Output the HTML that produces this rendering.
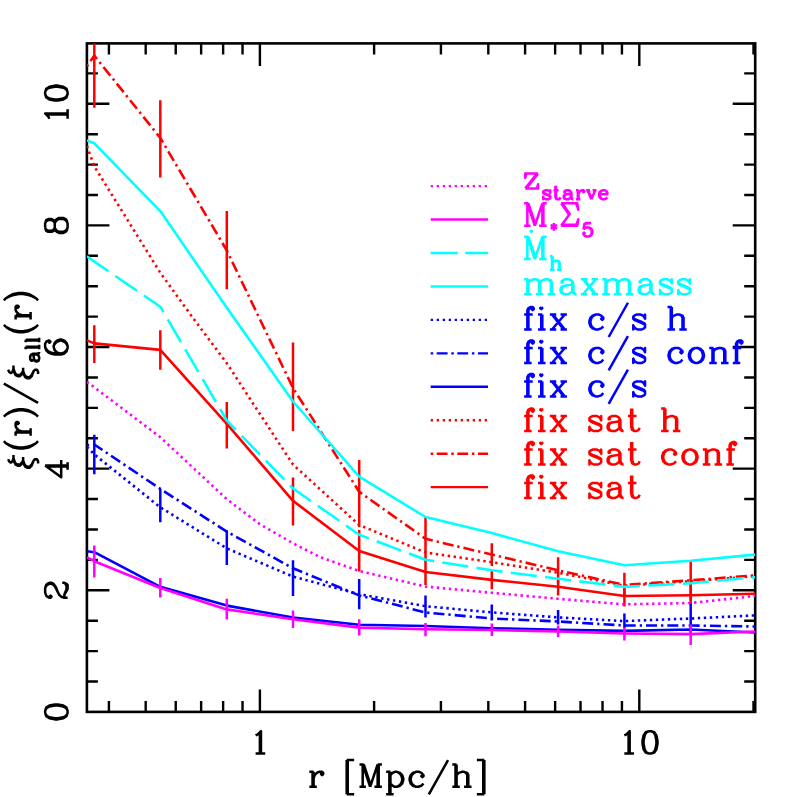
<!DOCTYPE html>
<html><head><meta charset="utf-8"><title>xi(r)/xi_all(r)</title>
<style>html,body{margin:0;padding:0;background:#fff;font-family:"Liberation Sans",sans-serif;}svg{display:block}</style>
</head><body>
<svg width="797" height="797" viewBox="0 0 797 797">
<rect x="0" y="0" width="797" height="797" fill="#fff"/>
<rect x="86.90" y="43.40" width="668.30" height="668.50" fill="none" stroke="#000" stroke-width="2.60"/>
<path d="M108.92 711.90v-11.00 M108.92 43.40v11.00 M145.69 711.90v-11.00 M145.69 43.40v11.00 M175.73 711.90v-11.00 M175.73 43.40v11.00 M201.13 711.90v-11.00 M201.13 43.40v11.00 M223.13 711.90v-11.00 M223.13 43.40v11.00 M242.54 711.90v-11.00 M242.54 43.40v11.00 M259.90 711.90v-22.50 M259.90 43.40v22.50 M374.11 711.90v-11.00 M374.11 43.40v11.00 M440.92 711.90v-11.00 M440.92 43.40v11.00 M488.32 711.90v-11.00 M488.32 43.40v11.00 M525.09 711.90v-11.00 M525.09 43.40v11.00 M555.13 711.90v-11.00 M555.13 43.40v11.00 M580.53 711.90v-11.00 M580.53 43.40v11.00 M602.53 711.90v-11.00 M602.53 43.40v11.00 M621.94 711.90v-11.00 M621.94 43.40v11.00 M639.30 711.90v-22.50 M639.30 43.40v22.50 M753.51 711.90v-11.00 M753.51 43.40v11.00 M86.90 681.50h11.00 M755.20 681.50h-11.00 M86.90 651.09h11.00 M755.20 651.09h-11.00 M86.90 620.68h11.00 M755.20 620.68h-11.00 M86.90 590.28h22.50 M755.20 590.28h-22.50 M86.90 559.88h11.00 M755.20 559.88h-11.00 M86.90 529.47h11.00 M755.20 529.47h-11.00 M86.90 499.06h11.00 M755.20 499.06h-11.00 M86.90 468.66h22.50 M755.20 468.66h-22.50 M86.90 438.25h11.00 M755.20 438.25h-11.00 M86.90 407.85h11.00 M755.20 407.85h-11.00 M86.90 377.44h11.00 M755.20 377.44h-11.00 M86.90 347.04h22.50 M755.20 347.04h-22.50 M86.90 316.63h11.00 M755.20 316.63h-11.00 M86.90 286.23h11.00 M755.20 286.23h-11.00 M86.90 255.82h11.00 M755.20 255.82h-11.00 M86.90 225.42h22.50 M755.20 225.42h-22.50 M86.90 195.01h11.00 M755.20 195.01h-11.00 M86.90 164.61h11.00 M755.20 164.61h-11.00 M86.90 134.20h11.00 M755.20 134.20h-11.00 M86.90 103.80h22.50 M755.20 103.80h-22.50 M86.90 73.39h11.00 M755.20 73.39h-11.00" stroke="#000" stroke-width="2.40" fill="none"/>
<clipPath id="c"><rect x="86.9" y="43.4" width="668.3" height="668.5"/></clipPath>
<g clip-path="url(#c)" fill="none">
<polyline points="86.9,340.4 94.3,343.4 160.3,349.9 226.8,423.8 293.0,500.8 359.2,551.0 425.5,572.0 491.8,579.9 558.1,586.7 624.4,596.0 690.7,595.2 755.2,593.8" stroke="#ff0000" stroke-width="2.60" stroke-linejoin="round"/>
<path d="M94.3 325.3V363.0 M160.3 330.3V369.7 M226.8 402.0V448.6 M293.0 477.4V525.4 M359.2 530.0V571.5 M425.5 560.0V585.0 M491.8 570.5V589.3 M558.1 578.0V595.4 M624.4 585.6V606.4 M690.7 585.0V605.0" stroke="#ff0000" stroke-width="2.50"/>
<polyline points="86.9,66.3 94.3,55.6 160.3,137.9 226.8,250.5 293.0,388.0 359.2,491.8 425.5,538.8 491.8,554.6 558.1,570.3 624.4,584.9 690.7,580.3 755.2,575.3" stroke="#ff0000" stroke-width="2.60" stroke-dasharray="11 4 2.3 4" stroke-dashoffset="15" stroke-linejoin="round"/>
<path d="M94.3 3.6V107.8 M160.3 100.2V177.5 M226.8 211.0V289.2 M293.0 342.5V431.0 M359.2 460.0V527.0 M425.5 517.0V561.0 M491.8 543.2V566.0 M558.1 557.2V583.0 M624.4 572.7V597.0 M690.7 560.2V600.4" stroke="#ff0000" stroke-width="2.50"/>
<polyline points="86.9,146.0 94.3,166.4 160.3,272.8 193.5,318.7 226.8,363.2 259.9,414.0 293.0,464.5 359.2,525.0 425.5,552.5 491.8,562.2 558.1,572.7 624.4,585.7 690.7,581.2 755.2,576.2" stroke="#ff0000" stroke-width="2.60" stroke-dasharray="2.4 3.6" stroke-linejoin="round"/>
<polyline points="86.9,551.2 94.3,552.2 160.3,586.8 226.8,605.6 293.0,617.5 359.2,624.8 425.5,626.0 491.8,628.2 558.1,629.8 624.4,630.9 690.7,629.5 755.2,632.5" stroke="#0000ff" stroke-width="2.60" stroke-linejoin="round"/>
<polyline points="86.9,445.3 94.3,444.5 160.3,488.9 226.8,531.6 293.0,568.3 359.2,595.4 425.5,612.5 491.8,618.5 558.1,621.5 624.4,625.5 690.7,625.5 755.2,626.5" stroke="#0000ff" stroke-width="2.60" stroke-dasharray="11 4 2.3 4" stroke-dashoffset="15" stroke-linejoin="round"/>
<polyline points="86.9,447.0 94.3,454.4 160.3,507.3 226.8,548.4 293.0,576.6 359.2,594.2 425.5,606.2 491.8,612.4 558.1,617.4 624.4,621.1 690.7,618.5 755.2,615.4" stroke="#0000ff" stroke-width="2.60" stroke-dasharray="2.4 3.6" stroke-linejoin="round"/>
<path d="M94.3 434.7V474.2 M160.3 488.9V522.3 M226.8 530.3V565.0 M293.0 560.3V595.9 M359.2 579.1V609.2 M425.5 595.4V617.5 M491.8 604.4V620.5 M558.1 610.0V624.5 M624.4 613.4V627.9 M690.7 603.4V633.6" stroke="#0000ff" stroke-width="2.50"/>
<polyline points="86.9,140.4 94.3,143.3 160.3,211.1 226.8,307.7 293.0,401.5 359.2,476.6 425.5,517.0 491.8,533.1 558.1,551.2 624.4,565.2 690.7,560.8 755.2,554.6" stroke="#00ffff" stroke-width="2.60" stroke-linejoin="round"/>
<polyline points="86.9,256.3 94.3,261.6 160.3,306.7 226.8,420.5 293.0,488.5 359.2,534.7 425.5,559.8 491.8,570.3 558.1,578.7 624.4,586.9 690.7,583.2 755.2,577.2" stroke="#00ffff" stroke-width="2.60" stroke-dasharray="26.2 8.4" stroke-linejoin="round"/>
<polyline points="86.9,557.4 94.3,561.2 160.3,588.0 226.8,609.4 293.0,619.3 359.2,627.6 425.5,629.3 491.8,630.0 558.1,631.5 624.4,633.5 690.7,634.1 755.2,631.5" stroke="#ff00ff" stroke-width="2.60" stroke-linejoin="round"/>
<path d="M94.3 545.4V577.5 M160.3 578.0V597.6 M226.8 598.8V619.6 M293.0 610.5V628.0 M359.2 619.3V635.6 M425.5 623.0V636.3 M491.8 623.5V636.1 M558.1 625.5V637.1 M624.4 627.5V640.5 M690.7 624.5V645.0" stroke="#ff00ff" stroke-width="2.50"/>
<polyline points="86.9,381.8 94.3,387.3 160.3,437.2 226.8,499.2 259.9,524.2 293.0,543.3 320.0,557.1 359.2,571.0 425.5,586.6 491.8,592.8 558.1,598.8 624.4,604.4 690.7,603.0 755.2,596.0" stroke="#ff00ff" stroke-width="2.60" stroke-dasharray="2.4 3.6" stroke-linejoin="round"/>
</g>
<path d="M255.62 735.41 L257.76 734.34 L260.97 731.13 L260.97 753.60 M259.90 732.20 L259.90 753.60 M255.62 753.60 L265.25 753.60" stroke="#000" stroke-width="2.50" fill="none" stroke-linecap="butt" stroke-linejoin="round"/>
<path d="M624.32 735.41 L626.46 734.34 L629.67 731.13 L629.67 753.60 M628.60 732.20 L628.60 753.60 M624.32 753.60 L633.95 753.60 M648.93 731.13 L645.72 732.20 L643.58 735.41 L642.51 740.76 L642.51 743.97 L643.58 749.32 L645.72 752.53 L648.93 753.60 L651.07 753.60 L654.28 752.53 L656.42 749.32 L657.49 743.97 L657.49 740.76 L656.42 735.41 L654.28 732.20 L651.07 731.13 L648.93 731.13 M648.93 731.13 L646.79 732.20 L645.72 733.27 L644.65 735.41 L643.58 740.76 L643.58 743.97 L644.65 749.32 L645.72 751.46 L646.79 752.53 L648.93 753.60 M651.07 753.60 L653.21 752.53 L654.28 751.46 L655.35 749.32 L656.42 743.97 L656.42 740.76 L655.35 735.41 L654.28 733.27 L653.21 732.20 L651.07 731.13" stroke="#000" stroke-width="2.50" fill="none" stroke-linecap="butt" stroke-linejoin="round"/>
<path d="M45.13 712.97 L46.20 716.18 L49.41 718.32 L54.76 719.39 L57.97 719.39 L63.32 718.32 L66.53 716.18 L67.60 712.97 L67.60 710.83 L66.53 707.62 L63.32 705.48 L57.97 704.41 L54.76 704.41 L49.41 705.48 L46.20 707.62 L45.13 710.83 L45.13 712.97 M45.13 712.97 L46.20 715.11 L47.27 716.18 L49.41 717.25 L54.76 718.32 L57.97 718.32 L63.32 717.25 L65.46 716.18 L66.53 715.11 L67.60 712.97 M67.60 710.83 L66.53 708.69 L65.46 707.62 L63.32 706.55 L57.97 705.48 L54.76 705.48 L49.41 706.55 L47.27 707.62 L46.20 708.69 L45.13 710.83" stroke="#000" stroke-width="2.50" fill="none" stroke-linecap="butt" stroke-linejoin="round"/>
<path d="M49.41 596.70 L50.48 595.63 L51.55 596.70 L50.48 597.77 L49.41 597.77 L47.27 596.70 L46.20 595.63 L45.13 592.42 L45.13 588.14 L46.20 584.93 L47.27 583.86 L49.41 582.79 L51.55 582.79 L53.69 583.86 L55.83 587.07 L57.97 592.42 L59.04 594.56 L61.18 596.70 L64.39 597.77 L67.60 597.77 M45.13 588.14 L46.20 586.00 L47.27 584.93 L49.41 583.86 L51.55 583.86 L53.69 584.93 L55.83 588.14 L57.97 592.42 M65.46 597.77 L64.39 596.70 L64.39 594.56 L66.53 589.21 L66.53 586.00 L65.46 583.86 L64.39 582.79 M64.39 594.56 L67.60 589.21 L67.60 584.93 L66.53 583.86 L64.39 582.79 L62.25 582.79" stroke="#000" stroke-width="2.50" fill="none" stroke-linecap="butt" stroke-linejoin="round"/>
<path d="M47.27 466.52 L67.60 466.52 M45.13 465.45 L67.60 465.45 M45.13 465.45 L61.18 477.22 L61.18 460.10 M67.60 469.73 L67.60 462.24" stroke="#000" stroke-width="2.50" fill="none" stroke-linecap="butt" stroke-linejoin="round"/>
<path d="M48.34 341.69 L49.41 342.76 L50.48 341.69 L49.41 340.62 L48.34 340.62 L46.20 341.69 L45.13 343.83 L45.13 347.04 L46.20 350.25 L48.34 352.39 L50.48 353.46 L54.76 354.53 L61.18 354.53 L64.39 353.46 L66.53 351.32 L67.60 348.11 L67.60 345.97 L66.53 342.76 L64.39 340.62 L61.18 339.55 L60.11 339.55 L56.90 340.62 L54.76 342.76 L53.69 345.97 L53.69 347.04 L54.76 350.25 L56.90 352.39 L60.11 353.46 M45.13 347.04 L46.20 349.18 L48.34 351.32 L50.48 352.39 L54.76 353.46 L61.18 353.46 L64.39 352.39 L66.53 350.25 L67.60 348.11 M67.60 345.97 L66.53 343.83 L64.39 341.69 L61.18 340.62 L60.11 340.62 L56.90 341.69 L54.76 343.83 L53.69 345.97" stroke="#000" stroke-width="2.50" fill="none" stroke-linecap="butt" stroke-linejoin="round"/>
<path d="M45.13 227.56 L46.20 230.77 L48.34 231.84 L51.55 231.84 L53.69 230.77 L54.76 227.56 L54.76 223.28 L53.69 220.07 L51.55 219.00 L48.34 219.00 L46.20 220.07 L45.13 223.28 L45.13 227.56 M45.13 227.56 L46.20 229.70 L48.34 230.77 L51.55 230.77 L53.69 229.70 L54.76 227.56 M54.76 223.28 L53.69 221.14 L51.55 220.07 L48.34 220.07 L46.20 221.14 L45.13 223.28 M54.76 227.56 L55.83 230.77 L56.90 231.84 L59.04 232.91 L63.32 232.91 L65.46 231.84 L66.53 230.77 L67.60 227.56 L67.60 223.28 L66.53 220.07 L65.46 219.00 L63.32 217.93 L59.04 217.93 L56.90 219.00 L55.83 220.07 L54.76 223.28 M54.76 227.56 L55.83 229.70 L56.90 230.77 L59.04 231.84 L63.32 231.84 L65.46 230.77 L66.53 229.70 L67.60 227.56 M67.60 223.28 L66.53 221.14 L65.46 220.07 L63.32 219.00 L59.04 219.00 L56.90 220.07 L55.83 221.14 L54.76 223.28" stroke="#000" stroke-width="2.50" fill="none" stroke-linecap="butt" stroke-linejoin="round"/>
<path d="M49.41 118.78 L48.34 116.64 L45.13 113.43 L67.60 113.43 M46.20 114.50 L67.60 114.50 M67.60 118.78 L67.60 109.15 M45.13 94.17 L46.20 97.38 L49.41 99.52 L54.76 100.59 L57.97 100.59 L63.32 99.52 L66.53 97.38 L67.60 94.17 L67.60 92.03 L66.53 88.82 L63.32 86.68 L57.97 85.61 L54.76 85.61 L49.41 86.68 L46.20 88.82 L45.13 92.03 L45.13 94.17 M45.13 94.17 L46.20 96.31 L47.27 97.38 L49.41 98.45 L54.76 99.52 L57.97 99.52 L63.32 98.45 L65.46 97.38 L66.53 96.31 L67.60 94.17 M67.60 92.03 L66.53 89.89 L65.46 88.82 L63.32 87.75 L57.97 86.68 L54.76 86.68 L49.41 87.75 L47.27 88.82 L46.20 89.89 L45.13 92.03" stroke="#000" stroke-width="2.50" fill="none" stroke-linecap="butt" stroke-linejoin="round"/>
<path d="M312.54 771.86 L312.54 786.80 M313.61 771.86 L313.61 786.80 M313.61 778.26 L314.67 775.06 L316.81 772.93 L318.94 771.86 L322.14 771.86 L323.21 772.93 L323.21 774.00 L322.14 775.06 L321.08 774.00 L322.14 772.93 M309.34 771.86 L313.61 771.86 M309.34 786.80 L316.81 786.80 M346.68 760.12 L346.68 794.27 M347.75 760.12 L347.75 794.27 M346.68 760.12 L354.15 760.12 M346.68 794.27 L354.15 794.27 M362.69 764.39 L362.69 786.80 M363.76 764.39 L370.16 783.60 M362.69 764.39 L370.16 786.80 M377.63 764.39 L370.16 786.80 M377.63 764.39 L377.63 786.80 M378.69 764.39 L378.69 786.80 M359.49 764.39 L363.76 764.39 M377.63 764.39 L381.89 764.39 M359.49 786.80 L365.89 786.80 M374.43 786.80 L381.89 786.80 M389.36 771.86 L389.36 794.27 M390.43 771.86 L390.43 794.27 M390.43 775.06 L392.56 772.93 L394.70 771.86 L396.83 771.86 L400.03 772.93 L402.17 775.06 L403.24 778.26 L403.24 780.40 L402.17 783.60 L400.03 785.73 L396.83 786.80 L394.70 786.80 L392.56 785.73 L390.43 783.60 M396.83 771.86 L398.97 772.93 L401.10 775.06 L402.17 778.26 L402.17 780.40 L401.10 783.60 L398.97 785.73 L396.83 786.80 M386.16 771.86 L390.43 771.86 M386.16 794.27 L393.63 794.27 M422.44 775.06 L421.37 776.13 L422.44 777.20 L423.51 776.13 L423.51 775.06 L421.37 772.93 L419.24 771.86 L416.04 771.86 L412.84 772.93 L410.70 775.06 L409.64 778.26 L409.64 780.40 L410.70 783.60 L412.84 785.73 L416.04 786.80 L418.17 786.80 L421.37 785.73 L423.51 783.60 M416.04 771.86 L413.90 772.93 L411.77 775.06 L410.70 778.26 L410.70 780.40 L411.77 783.60 L413.90 785.73 L416.04 786.80 M448.05 760.12 L428.84 794.27 M455.52 764.39 L455.52 786.80 M456.58 764.39 L456.58 786.80 M456.58 775.06 L458.72 772.93 L461.92 771.86 L464.05 771.86 L467.25 772.93 L468.32 775.06 L468.32 786.80 M464.05 771.86 L466.19 772.93 L467.25 775.06 L467.25 786.80 M452.32 764.39 L456.58 764.39 M452.32 786.80 L459.79 786.80 M464.05 786.80 L471.52 786.80 M483.26 760.12 L483.26 794.27 M484.33 760.12 L484.33 794.27 M476.86 760.12 L484.33 760.12 M476.86 794.27 L484.33 794.27" stroke="#000" stroke-width="2.50" fill="none" stroke-linecap="butt" stroke-linejoin="round"/>
<path d="M8.13 459.25 L9.20 461.38 L10.27 462.44 L11.34 462.44 L12.41 461.38 L13.48 458.18 L13.48 454.99 M13.48 458.18 L14.55 462.44 L15.62 464.57 L17.76 465.64 L19.90 465.64 L22.04 463.51 L23.11 460.31 L23.11 457.12 M13.48 458.18 L14.55 461.38 L15.62 463.51 L17.76 464.57 L19.90 464.57 L22.04 462.44 L23.11 460.31 M23.11 460.31 L24.18 464.57 L25.25 466.70 L27.39 467.77 L29.53 467.77 L31.67 465.64 L33.81 460.31 L34.88 459.25 L37.02 459.25 L38.09 461.38 L38.09 463.51 M23.11 460.31 L24.18 463.51 L25.25 465.64 L27.39 466.70 L29.53 466.70 L31.67 464.57 L33.81 460.31 M3.85 441.14 L5.99 443.27 L9.20 445.40 L13.48 447.53 L18.83 448.60 L23.11 448.60 L28.46 447.53 L32.74 445.40 L35.95 443.27 L38.09 441.14 M5.99 443.27 L10.27 445.40 L13.48 446.47 L18.83 447.53 L23.11 447.53 L28.46 446.47 L31.67 445.40 L35.95 443.27 M15.62 432.62 L30.60 432.62 M15.62 431.56 L30.60 431.56 M22.04 431.56 L18.83 430.49 L16.69 428.36 L15.62 426.23 L15.62 423.04 L16.69 421.97 L17.76 421.97 L18.83 423.04 L17.76 424.10 L16.69 423.04 M15.62 435.82 L15.62 431.56 M30.60 435.82 L30.60 428.36 M3.85 416.65 L5.99 414.52 L9.20 412.39 L13.48 410.26 L18.83 409.19 L23.11 409.19 L28.46 410.26 L32.74 412.39 L35.95 414.52 L38.09 416.65 M5.99 414.52 L10.27 412.39 L13.48 411.32 L18.83 410.26 L23.11 410.26 L28.46 411.32 L31.67 412.39 L35.95 414.52 M3.85 383.63 L38.09 402.80 M8.13 369.79 L9.20 371.92 L10.27 372.98 L11.34 372.98 L12.41 371.92 L13.48 368.72 L13.48 365.53 M13.48 368.72 L14.55 372.98 L15.62 375.11 L17.76 376.18 L19.90 376.18 L22.04 374.05 L23.11 370.85 L23.11 367.66 M13.48 368.72 L14.55 371.92 L15.62 374.05 L17.76 375.11 L19.90 375.11 L22.04 372.98 L23.11 370.85 M23.11 370.85 L24.18 375.11 L25.25 377.24 L27.39 378.31 L29.53 378.31 L31.67 376.18 L33.81 370.85 L34.88 369.79 L37.02 369.79 L38.09 371.92 L38.09 374.05 M23.11 370.85 L24.18 374.05 L25.25 376.18 L27.39 377.24 L29.53 377.24 L31.67 375.11 L33.81 370.85 M31.46 360.20 L32.10 360.20 L32.10 360.84 L31.46 360.84 L30.81 360.20 L30.17 358.93 L30.17 356.37 L30.81 355.09 L31.46 354.45 L32.74 353.81 L37.23 353.81 L38.52 353.18 L39.16 352.54 M31.46 354.45 L37.23 354.45 L38.52 353.81 L39.16 352.54 L39.16 351.90 M32.74 354.45 L33.38 355.09 L34.02 358.93 L34.67 360.84 L35.95 361.48 L37.23 361.48 L38.52 360.84 L39.16 358.93 L39.16 357.01 L38.52 355.73 L37.23 354.45 M34.02 358.93 L34.67 360.20 L35.95 360.84 L37.23 360.84 L38.52 360.20 L39.16 358.93 M25.68 347.42 L39.16 347.42 M25.68 346.79 L39.16 346.79 M25.68 349.34 L25.68 346.79 M39.16 349.34 L39.16 344.87 M25.68 340.39 L39.16 340.39 M25.68 339.76 L39.16 339.76 M25.68 342.31 L25.68 339.76 M39.16 342.31 L39.16 337.84 M3.85 324.85 L5.99 326.98 L9.20 329.11 L13.48 331.24 L18.83 332.30 L23.11 332.30 L28.46 331.24 L32.74 329.11 L35.95 326.98 L38.09 324.85 M5.99 326.98 L10.27 329.11 L13.48 330.17 L18.83 331.24 L23.11 331.24 L28.46 330.17 L31.67 329.11 L35.95 326.98 M15.62 316.33 L30.60 316.33 M15.62 315.26 L30.60 315.26 M22.04 315.26 L18.83 314.20 L16.69 312.07 L15.62 309.94 L15.62 306.74 L16.69 305.68 L17.76 305.68 L18.83 306.74 L17.76 307.81 L16.69 306.74 M15.62 319.52 L15.62 315.26 M30.60 319.52 L30.60 312.07 M3.85 300.35 L5.99 298.22 L9.20 296.09 L13.48 293.96 L18.83 292.90 L23.11 292.90 L28.46 293.96 L32.74 296.09 L35.95 298.22 L38.09 300.35 M5.99 298.22 L10.27 296.09 L13.48 295.03 L18.83 293.96 L23.11 293.96 L28.46 295.03 L31.67 296.09 L35.95 298.22" stroke="#000" stroke-width="2.50" fill="none" stroke-linecap="butt" stroke-linejoin="round"/>
<path d="M430.7 186.10H488.0" stroke="#ff00ff" stroke-width="2.40" stroke-dasharray="2.3 3.7" fill="none"/>
<path d="M430.7 219.55H488.0" stroke="#ff00ff" stroke-width="2.40" fill="none"/>
<path d="M430.7 253.00H488.0" stroke="#00ffff" stroke-width="2.40" stroke-dasharray="27 7.6" fill="none"/>
<path d="M430.7 286.45H488.0" stroke="#00ffff" stroke-width="2.40" fill="none"/>
<path d="M430.7 319.90H488.0" stroke="#0000ff" stroke-width="2.40" stroke-dasharray="2.3 3.7" fill="none"/>
<path d="M430.7 353.35H488.0" stroke="#0000ff" stroke-width="2.40" stroke-dasharray="2.5 3.5 10.9 3.7" fill="none"/>
<path d="M430.7 386.80H488.0" stroke="#0000ff" stroke-width="2.40" fill="none"/>
<path d="M430.7 420.25H488.0" stroke="#ff0000" stroke-width="2.40" stroke-dasharray="2.3 3.7" fill="none"/>
<path d="M430.7 453.70H488.0" stroke="#ff0000" stroke-width="2.40" stroke-dasharray="2.5 3.5 10.9 3.7" fill="none"/>
<path d="M430.7 487.15H488.0" stroke="#ff0000" stroke-width="2.40" fill="none"/>
<path d="M536.98 173.62 L525.21 188.60 M538.05 173.62 L526.28 188.60 M526.28 173.62 L525.21 177.90 L525.21 173.62 L538.05 173.62 M525.21 188.60 L538.05 188.60 L538.05 184.32 L536.98 188.60 M549.61 191.60 L550.25 190.31 L550.25 192.88 L549.61 191.60 L548.96 190.95 L547.68 190.31 L545.11 190.31 L543.83 190.95 L543.19 191.60 L543.19 192.88 L543.83 193.52 L545.11 194.16 L548.32 195.45 L549.61 196.09 L550.25 196.73 M543.19 192.24 L543.83 192.88 L545.11 193.52 L548.32 194.81 L549.61 195.45 L550.25 196.09 L550.25 198.02 L549.61 198.66 L548.32 199.30 L545.75 199.30 L544.47 198.66 L543.83 198.02 L543.19 196.73 L543.19 199.30 L543.83 198.02 M555.38 185.82 L555.38 196.73 L556.03 198.66 L557.31 199.30 L558.59 199.30 L559.88 198.66 L560.52 197.37 M556.03 185.82 L556.03 196.73 L556.67 198.66 L557.31 199.30 M553.46 190.31 L558.59 190.31 M565.01 191.60 L565.01 192.24 L564.37 192.24 L564.37 191.60 L565.01 190.95 L566.30 190.31 L568.87 190.31 L570.15 190.95 L570.79 191.60 L571.43 192.88 L571.43 197.37 L572.08 198.66 L572.72 199.30 M570.79 191.60 L570.79 197.37 L571.43 198.66 L572.72 199.30 L573.36 199.30 M570.79 192.88 L570.15 193.52 L566.30 194.16 L564.37 194.81 L563.73 196.09 L563.73 197.37 L564.37 198.66 L566.30 199.30 L568.22 199.30 L569.51 198.66 L570.79 197.37 M566.30 194.16 L565.01 194.81 L564.37 196.09 L564.37 197.37 L565.01 198.66 L566.30 199.30 M577.85 190.31 L577.85 199.30 M578.50 190.31 L578.50 199.30 M578.50 194.16 L579.14 192.24 L580.42 190.95 L581.71 190.31 L583.63 190.31 L584.27 190.95 L584.27 191.60 L583.63 192.24 L582.99 191.60 L583.63 190.95 M575.93 190.31 L578.50 190.31 M575.93 199.30 L580.42 199.30 M587.48 190.31 L591.34 199.30 M588.13 190.31 L591.34 198.02 M595.19 190.31 L591.34 199.30 M586.20 190.31 L590.05 190.31 M592.62 190.31 L596.47 190.31 M599.68 194.16 L607.39 194.16 L607.39 192.88 L606.74 191.60 L606.10 190.95 L604.82 190.31 L602.89 190.31 L600.97 190.95 L599.68 192.24 L599.04 194.16 L599.04 195.45 L599.68 197.37 L600.97 198.66 L602.89 199.30 L604.18 199.30 L606.10 198.66 L607.39 197.37 M606.74 194.16 L606.74 192.24 L606.10 190.95 M602.89 190.31 L601.61 190.95 L600.32 192.24 L599.68 194.16 L599.68 195.45 L600.32 197.37 L601.61 198.66 L602.89 199.30" stroke="#ff00ff" stroke-width="2.50" fill="none" stroke-linecap="butt" stroke-linejoin="round"/>
<path d="M527.35 203.28 L527.35 225.75 M528.42 203.28 L534.84 222.54 M527.35 203.28 L534.84 225.75 M542.33 203.28 L534.84 225.75 M542.33 203.28 L542.33 225.75 M543.40 203.28 L543.40 225.75 M524.14 203.28 L528.42 203.28 M542.33 203.28 L546.61 203.28 M524.14 225.75 L530.56 225.75 M539.12 225.75 L546.61 225.75 M553.89 222.97 L553.89 230.67 M550.68 224.89 L557.10 228.75 M557.10 224.89 L550.68 228.75 M562.23 203.28 L569.72 213.98 L561.16 225.75 M561.16 203.28 L568.65 213.98 M561.16 203.28 L577.21 203.28 L578.28 209.70 L576.14 203.28 M562.23 224.68 L576.14 224.68 M561.16 225.75 L577.21 225.75 L578.28 219.33 L576.14 225.75 M584.70 222.97 L583.42 229.39 M583.42 229.39 L584.70 228.10 L586.63 227.46 L588.55 227.46 L590.48 228.10 L591.76 229.39 L592.41 231.31 L592.41 232.60 L591.76 234.52 L590.48 235.81 L588.55 236.45 L586.63 236.45 L584.70 235.81 L584.06 235.17 L583.42 233.88 L583.42 233.24 L584.06 232.60 L584.70 233.24 L584.06 233.88 M588.55 227.46 L589.84 228.10 L591.12 229.39 L591.76 231.31 L591.76 232.60 L591.12 234.52 L589.84 235.81 L588.55 236.45 M584.70 222.97 L591.12 222.97 M584.70 223.61 L587.91 223.61 L591.12 222.97" stroke="#ff00ff" stroke-width="2.50" fill="none" stroke-linecap="butt" stroke-linejoin="round"/>
<path d="M527.35 236.63 L527.35 259.10 M528.42 236.63 L534.84 255.89 M527.35 236.63 L534.84 259.10 M542.33 236.63 L534.84 259.10 M542.33 236.63 L542.33 259.10 M543.40 236.63 L543.40 259.10 M524.14 236.63 L528.42 236.63 M542.33 236.63 L546.61 236.63 M524.14 259.10 L530.56 259.10 M539.12 259.10 L546.61 259.10 M551.96 256.32 L551.96 269.80 M552.60 256.32 L552.60 269.80 M552.60 262.74 L553.89 261.45 L555.81 260.81 L557.10 260.81 L559.02 261.45 L559.66 262.74 L559.66 269.80 M557.10 260.81 L558.38 261.45 L559.02 262.74 L559.02 269.80 M550.03 256.32 L552.60 256.32 M550.03 269.80 L554.53 269.80 M557.10 269.80 L561.59 269.80" stroke="#00ffff" stroke-width="2.50" fill="none" stroke-linecap="butt" stroke-linejoin="round"/>
<path d="M527.35 279.27 L527.35 294.25 M528.42 279.27 L528.42 294.25 M528.42 282.48 L530.56 280.34 L533.77 279.27 L535.91 279.27 L539.12 280.34 L540.19 282.48 L540.19 294.25 M535.91 279.27 L538.05 280.34 L539.12 282.48 L539.12 294.25 M540.19 282.48 L542.33 280.34 L545.54 279.27 L547.68 279.27 L550.89 280.34 L551.96 282.48 L551.96 294.25 M547.68 279.27 L549.82 280.34 L550.89 282.48 L550.89 294.25 M524.14 279.27 L528.42 279.27 M524.14 294.25 L531.63 294.25 M535.91 294.25 L543.40 294.25 M547.68 294.25 L555.17 294.25 M562.66 281.41 L562.66 282.48 L561.59 282.48 L561.59 281.41 L562.66 280.34 L564.80 279.27 L569.08 279.27 L571.22 280.34 L572.29 281.41 L573.36 283.55 L573.36 291.04 L574.43 293.18 L575.50 294.25 M572.29 281.41 L572.29 291.04 L573.36 293.18 L575.50 294.25 L576.57 294.25 M572.29 283.55 L571.22 284.62 L564.80 285.69 L561.59 286.76 L560.52 288.90 L560.52 291.04 L561.59 293.18 L564.80 294.25 L568.01 294.25 L570.15 293.18 L572.29 291.04 M564.80 285.69 L562.66 286.76 L561.59 288.90 L561.59 291.04 L562.66 293.18 L564.80 294.25 M582.99 279.27 L594.76 294.25 M584.06 279.27 L595.83 294.25 M595.83 279.27 L582.99 294.25 M580.85 279.27 L587.27 279.27 M591.55 279.27 L597.97 279.27 M580.85 294.25 L587.27 294.25 M591.55 294.25 L597.97 294.25 M605.46 279.27 L605.46 294.25 M606.53 279.27 L606.53 294.25 M606.53 282.48 L608.67 280.34 L611.88 279.27 L614.02 279.27 L617.23 280.34 L618.30 282.48 L618.30 294.25 M614.02 279.27 L616.16 280.34 L617.23 282.48 L617.23 294.25 M618.30 282.48 L620.44 280.34 L623.65 279.27 L625.79 279.27 L629.00 280.34 L630.07 282.48 L630.07 294.25 M625.79 279.27 L627.93 280.34 L629.00 282.48 L629.00 294.25 M602.25 279.27 L606.53 279.27 M602.25 294.25 L609.74 294.25 M614.02 294.25 L621.51 294.25 M625.79 294.25 L633.28 294.25 M640.77 281.41 L640.77 282.48 L639.70 282.48 L639.70 281.41 L640.77 280.34 L642.91 279.27 L647.19 279.27 L649.33 280.34 L650.40 281.41 L651.47 283.55 L651.47 291.04 L652.54 293.18 L653.61 294.25 M650.40 281.41 L650.40 291.04 L651.47 293.18 L653.61 294.25 L654.68 294.25 M650.40 283.55 L649.33 284.62 L642.91 285.69 L639.70 286.76 L638.63 288.90 L638.63 291.04 L639.70 293.18 L642.91 294.25 L646.12 294.25 L648.26 293.18 L650.40 291.04 M642.91 285.69 L640.77 286.76 L639.70 288.90 L639.70 291.04 L640.77 293.18 L642.91 294.25 M670.73 281.41 L671.80 279.27 L671.80 283.55 L670.73 281.41 L669.66 280.34 L667.52 279.27 L663.24 279.27 L661.10 280.34 L660.03 281.41 L660.03 283.55 L661.10 284.62 L663.24 285.69 L668.59 287.83 L670.73 288.90 L671.80 289.97 M660.03 282.48 L661.10 283.55 L663.24 284.62 L668.59 286.76 L670.73 287.83 L671.80 288.90 L671.80 292.11 L670.73 293.18 L668.59 294.25 L664.31 294.25 L662.17 293.18 L661.10 292.11 L660.03 289.97 L660.03 294.25 L661.10 292.11 M688.92 281.41 L689.99 279.27 L689.99 283.55 L688.92 281.41 L687.85 280.34 L685.71 279.27 L681.43 279.27 L679.29 280.34 L678.22 281.41 L678.22 283.55 L679.29 284.62 L681.43 285.69 L686.78 287.83 L688.92 288.90 L689.99 289.97 M678.22 282.48 L679.29 283.55 L681.43 284.62 L686.78 286.76 L688.92 287.83 L689.99 288.90 L689.99 292.11 L688.92 293.18 L686.78 294.25 L682.50 294.25 L680.36 293.18 L679.29 292.11 L678.22 289.97 L678.22 294.25 L679.29 292.11" stroke="#00ffff" stroke-width="2.50" fill="none" stroke-linecap="butt" stroke-linejoin="round"/>
<path d="M532.70 308.10 L531.63 309.17 L532.70 310.24 L533.77 309.17 L533.77 308.10 L532.70 307.03 L530.56 307.03 L528.42 308.10 L527.35 310.24 L527.35 329.50 M530.56 307.03 L529.49 308.10 L528.42 310.24 L528.42 329.50 M524.14 314.52 L532.70 314.52 M524.14 329.50 L531.63 329.50 M541.26 307.03 L540.19 308.10 L541.26 309.17 L542.33 308.10 L541.26 307.03 M541.26 314.52 L541.26 329.50 M542.33 314.52 L542.33 329.50 M538.05 314.52 L542.33 314.52 M538.05 329.50 L545.54 329.50 M551.96 314.52 L563.73 329.50 M553.03 314.52 L564.80 329.50 M564.80 314.52 L551.96 329.50 M549.82 314.52 L556.24 314.52 M560.52 314.52 L566.94 314.52 M549.82 329.50 L556.24 329.50 M560.52 329.50 L566.94 329.50 M602.25 317.73 L601.18 318.80 L602.25 319.87 L603.32 318.80 L603.32 317.73 L601.18 315.59 L599.04 314.52 L595.83 314.52 L592.62 315.59 L590.48 317.73 L589.41 320.94 L589.41 323.08 L590.48 326.29 L592.62 328.43 L595.83 329.50 L597.97 329.50 L601.18 328.43 L603.32 326.29 M595.83 314.52 L593.69 315.59 L591.55 317.73 L590.48 320.94 L590.48 323.08 L591.55 326.29 L593.69 328.43 L595.83 329.50 M627.93 302.75 L608.67 336.99 M643.98 316.66 L645.05 314.52 L645.05 318.80 L643.98 316.66 L642.91 315.59 L640.77 314.52 L636.49 314.52 L634.35 315.59 L633.28 316.66 L633.28 318.80 L634.35 319.87 L636.49 320.94 L641.84 323.08 L643.98 324.15 L645.05 325.22 M633.28 317.73 L634.35 318.80 L636.49 319.87 L641.84 322.01 L643.98 323.08 L645.05 324.15 L645.05 327.36 L643.98 328.43 L641.84 329.50 L637.56 329.50 L635.42 328.43 L634.35 327.36 L633.28 325.22 L633.28 329.50 L634.35 327.36 M670.73 307.03 L670.73 329.50 M671.80 307.03 L671.80 329.50 M671.80 317.73 L673.94 315.59 L677.15 314.52 L679.29 314.52 L682.50 315.59 L683.57 317.73 L683.57 329.50 M679.29 314.52 L681.43 315.59 L682.50 317.73 L682.50 329.50 M667.52 307.03 L671.80 307.03 M667.52 329.50 L675.01 329.50 M679.29 329.50 L686.78 329.50" stroke="#0000ff" stroke-width="2.50" fill="none" stroke-linecap="butt" stroke-linejoin="round"/>
<path d="M532.70 341.55 L531.63 342.62 L532.70 343.69 L533.77 342.62 L533.77 341.55 L532.70 340.48 L530.56 340.48 L528.42 341.55 L527.35 343.69 L527.35 362.95 M530.56 340.48 L529.49 341.55 L528.42 343.69 L528.42 362.95 M524.14 347.97 L532.70 347.97 M524.14 362.95 L531.63 362.95 M541.26 340.48 L540.19 341.55 L541.26 342.62 L542.33 341.55 L541.26 340.48 M541.26 347.97 L541.26 362.95 M542.33 347.97 L542.33 362.95 M538.05 347.97 L542.33 347.97 M538.05 362.95 L545.54 362.95 M551.96 347.97 L563.73 362.95 M553.03 347.97 L564.80 362.95 M564.80 347.97 L551.96 362.95 M549.82 347.97 L556.24 347.97 M560.52 347.97 L566.94 347.97 M549.82 362.95 L556.24 362.95 M560.52 362.95 L566.94 362.95 M602.25 351.18 L601.18 352.25 L602.25 353.32 L603.32 352.25 L603.32 351.18 L601.18 349.04 L599.04 347.97 L595.83 347.97 L592.62 349.04 L590.48 351.18 L589.41 354.39 L589.41 356.53 L590.48 359.74 L592.62 361.88 L595.83 362.95 L597.97 362.95 L601.18 361.88 L603.32 359.74 M595.83 347.97 L593.69 349.04 L591.55 351.18 L590.48 354.39 L590.48 356.53 L591.55 359.74 L593.69 361.88 L595.83 362.95 M627.93 336.20 L608.67 370.44 M643.98 350.11 L645.05 347.97 L645.05 352.25 L643.98 350.11 L642.91 349.04 L640.77 347.97 L636.49 347.97 L634.35 349.04 L633.28 350.11 L633.28 352.25 L634.35 353.32 L636.49 354.39 L641.84 356.53 L643.98 357.60 L645.05 358.67 M633.28 351.18 L634.35 352.25 L636.49 353.32 L641.84 355.46 L643.98 356.53 L645.05 357.60 L645.05 360.81 L643.98 361.88 L641.84 362.95 L637.56 362.95 L635.42 361.88 L634.35 360.81 L633.28 358.67 L633.28 362.95 L634.35 360.81 M681.43 351.18 L680.36 352.25 L681.43 353.32 L682.50 352.25 L682.50 351.18 L680.36 349.04 L678.22 347.97 L675.01 347.97 L671.80 349.04 L669.66 351.18 L668.59 354.39 L668.59 356.53 L669.66 359.74 L671.80 361.88 L675.01 362.95 L677.15 362.95 L680.36 361.88 L682.50 359.74 M675.01 347.97 L672.87 349.04 L670.73 351.18 L669.66 354.39 L669.66 356.53 L670.73 359.74 L672.87 361.88 L675.01 362.95 M695.34 347.97 L692.13 349.04 L689.99 351.18 L688.92 354.39 L688.92 356.53 L689.99 359.74 L692.13 361.88 L695.34 362.95 L697.48 362.95 L700.69 361.88 L702.83 359.74 L703.90 356.53 L703.90 354.39 L702.83 351.18 L700.69 349.04 L697.48 347.97 L695.34 347.97 M695.34 347.97 L693.20 349.04 L691.06 351.18 L689.99 354.39 L689.99 356.53 L691.06 359.74 L693.20 361.88 L695.34 362.95 M697.48 362.95 L699.62 361.88 L701.76 359.74 L702.83 356.53 L702.83 354.39 L701.76 351.18 L699.62 349.04 L697.48 347.97 M712.46 347.97 L712.46 362.95 M713.53 347.97 L713.53 362.95 M713.53 351.18 L715.67 349.04 L718.88 347.97 L721.02 347.97 L724.23 349.04 L725.30 351.18 L725.30 362.95 M721.02 347.97 L723.16 349.04 L724.23 351.18 L724.23 362.95 M709.25 347.97 L713.53 347.97 M709.25 362.95 L716.74 362.95 M721.02 362.95 L728.51 362.95 M741.35 341.55 L740.28 342.62 L741.35 343.69 L742.42 342.62 L742.42 341.55 L741.35 340.48 L739.21 340.48 L737.07 341.55 L736.00 343.69 L736.00 362.95 M739.21 340.48 L738.14 341.55 L737.07 343.69 L737.07 362.95 M732.79 347.97 L741.35 347.97 M732.79 362.95 L740.28 362.95" stroke="#0000ff" stroke-width="2.50" fill="none" stroke-linecap="butt" stroke-linejoin="round"/>
<path d="M532.70 375.00 L531.63 376.07 L532.70 377.14 L533.77 376.07 L533.77 375.00 L532.70 373.93 L530.56 373.93 L528.42 375.00 L527.35 377.14 L527.35 396.40 M530.56 373.93 L529.49 375.00 L528.42 377.14 L528.42 396.40 M524.14 381.42 L532.70 381.42 M524.14 396.40 L531.63 396.40 M541.26 373.93 L540.19 375.00 L541.26 376.07 L542.33 375.00 L541.26 373.93 M541.26 381.42 L541.26 396.40 M542.33 381.42 L542.33 396.40 M538.05 381.42 L542.33 381.42 M538.05 396.40 L545.54 396.40 M551.96 381.42 L563.73 396.40 M553.03 381.42 L564.80 396.40 M564.80 381.42 L551.96 396.40 M549.82 381.42 L556.24 381.42 M560.52 381.42 L566.94 381.42 M549.82 396.40 L556.24 396.40 M560.52 396.40 L566.94 396.40 M602.25 384.63 L601.18 385.70 L602.25 386.77 L603.32 385.70 L603.32 384.63 L601.18 382.49 L599.04 381.42 L595.83 381.42 L592.62 382.49 L590.48 384.63 L589.41 387.84 L589.41 389.98 L590.48 393.19 L592.62 395.33 L595.83 396.40 L597.97 396.40 L601.18 395.33 L603.32 393.19 M595.83 381.42 L593.69 382.49 L591.55 384.63 L590.48 387.84 L590.48 389.98 L591.55 393.19 L593.69 395.33 L595.83 396.40 M627.93 369.65 L608.67 403.89 M643.98 383.56 L645.05 381.42 L645.05 385.70 L643.98 383.56 L642.91 382.49 L640.77 381.42 L636.49 381.42 L634.35 382.49 L633.28 383.56 L633.28 385.70 L634.35 386.77 L636.49 387.84 L641.84 389.98 L643.98 391.05 L645.05 392.12 M633.28 384.63 L634.35 385.70 L636.49 386.77 L641.84 388.91 L643.98 389.98 L645.05 391.05 L645.05 394.26 L643.98 395.33 L641.84 396.40 L637.56 396.40 L635.42 395.33 L634.35 394.26 L633.28 392.12 L633.28 396.40 L634.35 394.26" stroke="#0000ff" stroke-width="2.50" fill="none" stroke-linecap="butt" stroke-linejoin="round"/>
<path d="M532.70 409.65 L531.63 410.72 L532.70 411.79 L533.77 410.72 L533.77 409.65 L532.70 408.58 L530.56 408.58 L528.42 409.65 L527.35 411.79 L527.35 431.05 M530.56 408.58 L529.49 409.65 L528.42 411.79 L528.42 431.05 M524.14 416.07 L532.70 416.07 M524.14 431.05 L531.63 431.05 M541.26 408.58 L540.19 409.65 L541.26 410.72 L542.33 409.65 L541.26 408.58 M541.26 416.07 L541.26 431.05 M542.33 416.07 L542.33 431.05 M538.05 416.07 L542.33 416.07 M538.05 431.05 L545.54 431.05 M551.96 416.07 L563.73 431.05 M553.03 416.07 L564.80 431.05 M564.80 416.07 L551.96 431.05 M549.82 416.07 L556.24 416.07 M560.52 416.07 L566.94 416.07 M549.82 431.05 L556.24 431.05 M560.52 431.05 L566.94 431.05 M600.11 418.21 L601.18 416.07 L601.18 420.35 L600.11 418.21 L599.04 417.14 L596.90 416.07 L592.62 416.07 L590.48 417.14 L589.41 418.21 L589.41 420.35 L590.48 421.42 L592.62 422.49 L597.97 424.63 L600.11 425.70 L601.18 426.77 M589.41 419.28 L590.48 420.35 L592.62 421.42 L597.97 423.56 L600.11 424.63 L601.18 425.70 L601.18 428.91 L600.11 429.98 L597.97 431.05 L593.69 431.05 L591.55 429.98 L590.48 428.91 L589.41 426.77 L589.41 431.05 L590.48 428.91 M609.74 418.21 L609.74 419.28 L608.67 419.28 L608.67 418.21 L609.74 417.14 L611.88 416.07 L616.16 416.07 L618.30 417.14 L619.37 418.21 L620.44 420.35 L620.44 427.84 L621.51 429.98 L622.58 431.05 M619.37 418.21 L619.37 427.84 L620.44 429.98 L622.58 431.05 L623.65 431.05 M619.37 420.35 L618.30 421.42 L611.88 422.49 L608.67 423.56 L607.60 425.70 L607.60 427.84 L608.67 429.98 L611.88 431.05 L615.09 431.05 L617.23 429.98 L619.37 427.84 M611.88 422.49 L609.74 423.56 L608.67 425.70 L608.67 427.84 L609.74 429.98 L611.88 431.05 M631.14 408.58 L631.14 426.77 L632.21 429.98 L634.35 431.05 L636.49 431.05 L638.63 429.98 L639.70 427.84 M632.21 408.58 L632.21 426.77 L633.28 429.98 L634.35 431.05 M627.93 416.07 L636.49 416.07 M664.31 408.58 L664.31 431.05 M665.38 408.58 L665.38 431.05 M665.38 419.28 L667.52 417.14 L670.73 416.07 L672.87 416.07 L676.08 417.14 L677.15 419.28 L677.15 431.05 M672.87 416.07 L675.01 417.14 L676.08 419.28 L676.08 431.05 M661.10 408.58 L665.38 408.58 M661.10 431.05 L668.59 431.05 M672.87 431.05 L680.36 431.05" stroke="#ff0000" stroke-width="2.50" fill="none" stroke-linecap="butt" stroke-linejoin="round"/>
<path d="M532.70 443.10 L531.63 444.17 L532.70 445.24 L533.77 444.17 L533.77 443.10 L532.70 442.03 L530.56 442.03 L528.42 443.10 L527.35 445.24 L527.35 464.50 M530.56 442.03 L529.49 443.10 L528.42 445.24 L528.42 464.50 M524.14 449.52 L532.70 449.52 M524.14 464.50 L531.63 464.50 M541.26 442.03 L540.19 443.10 L541.26 444.17 L542.33 443.10 L541.26 442.03 M541.26 449.52 L541.26 464.50 M542.33 449.52 L542.33 464.50 M538.05 449.52 L542.33 449.52 M538.05 464.50 L545.54 464.50 M551.96 449.52 L563.73 464.50 M553.03 449.52 L564.80 464.50 M564.80 449.52 L551.96 464.50 M549.82 449.52 L556.24 449.52 M560.52 449.52 L566.94 449.52 M549.82 464.50 L556.24 464.50 M560.52 464.50 L566.94 464.50 M600.11 451.66 L601.18 449.52 L601.18 453.80 L600.11 451.66 L599.04 450.59 L596.90 449.52 L592.62 449.52 L590.48 450.59 L589.41 451.66 L589.41 453.80 L590.48 454.87 L592.62 455.94 L597.97 458.08 L600.11 459.15 L601.18 460.22 M589.41 452.73 L590.48 453.80 L592.62 454.87 L597.97 457.01 L600.11 458.08 L601.18 459.15 L601.18 462.36 L600.11 463.43 L597.97 464.50 L593.69 464.50 L591.55 463.43 L590.48 462.36 L589.41 460.22 L589.41 464.50 L590.48 462.36 M609.74 451.66 L609.74 452.73 L608.67 452.73 L608.67 451.66 L609.74 450.59 L611.88 449.52 L616.16 449.52 L618.30 450.59 L619.37 451.66 L620.44 453.80 L620.44 461.29 L621.51 463.43 L622.58 464.50 M619.37 451.66 L619.37 461.29 L620.44 463.43 L622.58 464.50 L623.65 464.50 M619.37 453.80 L618.30 454.87 L611.88 455.94 L608.67 457.01 L607.60 459.15 L607.60 461.29 L608.67 463.43 L611.88 464.50 L615.09 464.50 L617.23 463.43 L619.37 461.29 M611.88 455.94 L609.74 457.01 L608.67 459.15 L608.67 461.29 L609.74 463.43 L611.88 464.50 M631.14 442.03 L631.14 460.22 L632.21 463.43 L634.35 464.50 L636.49 464.50 L638.63 463.43 L639.70 461.29 M632.21 442.03 L632.21 460.22 L633.28 463.43 L634.35 464.50 M627.93 449.52 L636.49 449.52 M675.01 452.73 L673.94 453.80 L675.01 454.87 L676.08 453.80 L676.08 452.73 L673.94 450.59 L671.80 449.52 L668.59 449.52 L665.38 450.59 L663.24 452.73 L662.17 455.94 L662.17 458.08 L663.24 461.29 L665.38 463.43 L668.59 464.50 L670.73 464.50 L673.94 463.43 L676.08 461.29 M668.59 449.52 L666.45 450.59 L664.31 452.73 L663.24 455.94 L663.24 458.08 L664.31 461.29 L666.45 463.43 L668.59 464.50 M688.92 449.52 L685.71 450.59 L683.57 452.73 L682.50 455.94 L682.50 458.08 L683.57 461.29 L685.71 463.43 L688.92 464.50 L691.06 464.50 L694.27 463.43 L696.41 461.29 L697.48 458.08 L697.48 455.94 L696.41 452.73 L694.27 450.59 L691.06 449.52 L688.92 449.52 M688.92 449.52 L686.78 450.59 L684.64 452.73 L683.57 455.94 L683.57 458.08 L684.64 461.29 L686.78 463.43 L688.92 464.50 M691.06 464.50 L693.20 463.43 L695.34 461.29 L696.41 458.08 L696.41 455.94 L695.34 452.73 L693.20 450.59 L691.06 449.52 M706.04 449.52 L706.04 464.50 M707.11 449.52 L707.11 464.50 M707.11 452.73 L709.25 450.59 L712.46 449.52 L714.60 449.52 L717.81 450.59 L718.88 452.73 L718.88 464.50 M714.60 449.52 L716.74 450.59 L717.81 452.73 L717.81 464.50 M702.83 449.52 L707.11 449.52 M702.83 464.50 L710.32 464.50 M714.60 464.50 L722.09 464.50 M734.93 443.10 L733.86 444.17 L734.93 445.24 L736.00 444.17 L736.00 443.10 L734.93 442.03 L732.79 442.03 L730.65 443.10 L729.58 445.24 L729.58 464.50 M732.79 442.03 L731.72 443.10 L730.65 445.24 L730.65 464.50 M726.37 449.52 L734.93 449.52 M726.37 464.50 L733.86 464.50" stroke="#ff0000" stroke-width="2.50" fill="none" stroke-linecap="butt" stroke-linejoin="round"/>
<path d="M532.70 476.55 L531.63 477.62 L532.70 478.69 L533.77 477.62 L533.77 476.55 L532.70 475.48 L530.56 475.48 L528.42 476.55 L527.35 478.69 L527.35 497.95 M530.56 475.48 L529.49 476.55 L528.42 478.69 L528.42 497.95 M524.14 482.97 L532.70 482.97 M524.14 497.95 L531.63 497.95 M541.26 475.48 L540.19 476.55 L541.26 477.62 L542.33 476.55 L541.26 475.48 M541.26 482.97 L541.26 497.95 M542.33 482.97 L542.33 497.95 M538.05 482.97 L542.33 482.97 M538.05 497.95 L545.54 497.95 M551.96 482.97 L563.73 497.95 M553.03 482.97 L564.80 497.95 M564.80 482.97 L551.96 497.95 M549.82 482.97 L556.24 482.97 M560.52 482.97 L566.94 482.97 M549.82 497.95 L556.24 497.95 M560.52 497.95 L566.94 497.95 M600.11 485.11 L601.18 482.97 L601.18 487.25 L600.11 485.11 L599.04 484.04 L596.90 482.97 L592.62 482.97 L590.48 484.04 L589.41 485.11 L589.41 487.25 L590.48 488.32 L592.62 489.39 L597.97 491.53 L600.11 492.60 L601.18 493.67 M589.41 486.18 L590.48 487.25 L592.62 488.32 L597.97 490.46 L600.11 491.53 L601.18 492.60 L601.18 495.81 L600.11 496.88 L597.97 497.95 L593.69 497.95 L591.55 496.88 L590.48 495.81 L589.41 493.67 L589.41 497.95 L590.48 495.81 M609.74 485.11 L609.74 486.18 L608.67 486.18 L608.67 485.11 L609.74 484.04 L611.88 482.97 L616.16 482.97 L618.30 484.04 L619.37 485.11 L620.44 487.25 L620.44 494.74 L621.51 496.88 L622.58 497.95 M619.37 485.11 L619.37 494.74 L620.44 496.88 L622.58 497.95 L623.65 497.95 M619.37 487.25 L618.30 488.32 L611.88 489.39 L608.67 490.46 L607.60 492.60 L607.60 494.74 L608.67 496.88 L611.88 497.95 L615.09 497.95 L617.23 496.88 L619.37 494.74 M611.88 489.39 L609.74 490.46 L608.67 492.60 L608.67 494.74 L609.74 496.88 L611.88 497.95 M631.14 475.48 L631.14 493.67 L632.21 496.88 L634.35 497.95 L636.49 497.95 L638.63 496.88 L639.70 494.74 M632.21 475.48 L632.21 493.67 L633.28 496.88 L634.35 497.95 M627.93 482.97 L636.49 482.97" stroke="#ff0000" stroke-width="2.50" fill="none" stroke-linecap="butt" stroke-linejoin="round"/>
<circle cx="531.3" cy="231.2" r="1.8" fill="#00ffff"/>
</svg>
</body></html>
